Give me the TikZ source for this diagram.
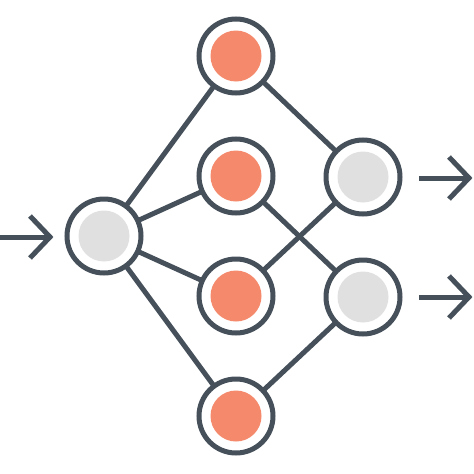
\documentclass[tikz,border=0pt]{standalone}
\usetikzlibrary{calc}
\definecolor{darkline}{HTML}{46505A}
\definecolor{salmon}{HTML}{F4896B}
\definecolor{lightgray}{HTML}{E0E0E0}
\begin{document}
\begin{tikzpicture}[x=1pt,y=-1pt,
  link/.style={draw=darkline,line width=5pt},
  neuron/.style={circle,draw=darkline,line width=5pt,fill=white,minimum size=74pt,inner sep=0pt},
  hiddenunit/.style={neuron,path picture={\fill[salmon] (path picture bounding box.center) circle (25.5pt);}},
  outerunit/.style={neuron,path picture={\fill[lightgray] (path picture bounding box.center) circle (25.5pt);}},
  arrowline/.style={draw=darkline,line width=5pt,line join=miter}
]
\useasboundingbox (0,0) rectangle (474,474);
\coordinate (pin) at (104,236);
\coordinate (ph1) at (236,56);
\coordinate (ph2) at (236,176);
\coordinate (ph3) at (236,296);
\coordinate (ph4) at (236,416);
\coordinate (po1) at (363,177);
\coordinate (po2) at (363,297);
% edges drawn under nodes
\draw[link] (pin) -- (ph1);
\draw[link] (pin) -- (ph2);
\draw[link] (pin) -- (ph3);
\draw[link] (pin) -- (ph4);
\draw[link] (ph1) -- (po1);
\draw[link] (ph2) -- (po2);
\draw[link] (ph3) -- (po1);
\draw[link] (ph4) -- (po2);
% nodes
\node[outerunit] (in) at (pin) {};
\node[hiddenunit] (h1) at (ph1) {};
\node[hiddenunit] (h2) at (ph2) {};
\node[hiddenunit] (h3) at (ph3) {};
\node[hiddenunit] (h4) at (ph4) {};
\node[outerunit] (o1) at (po1) {};
\node[outerunit] (o2) at (po2) {};
% input arrow
\coordinate (ia0) at (-2,237);
\coordinate (ia1) at (50,237);
\draw[arrowline] (ia0) -- (ia1);
\draw[arrowline] ($(ia1)+(-20,-21)$) -- (ia1) -- ($(ia1)+(-20,21)$);
% output arrows
\coordinate (oa0) at (419,178);
\coordinate (oa1) at (469,178);
\draw[arrowline] (oa0) -- (oa1);
\draw[arrowline] ($(oa1)+(-20,-21)$) -- (oa1) -- ($(oa1)+(-20,21)$);
\coordinate (ob0) at (419,297);
\coordinate (ob1) at (469,297);
\draw[arrowline] (ob0) -- (ob1);
\draw[arrowline] ($(ob1)+(-20,-21)$) -- (ob1) -- ($(ob1)+(-20,21)$);
\end{tikzpicture}
\end{document}
